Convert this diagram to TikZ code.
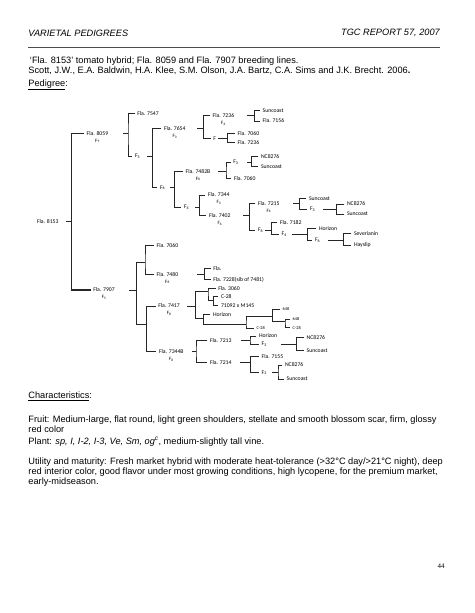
\documentclass[tikz,border=0pt]{standalone}
\usepackage{fontspec}
\setmainfont{Liberation Sans}
\newfontfamily\pedfont{Carlito}
\newfontfamily\numfont{Liberation Serif}
\usetikzlibrary{positioning}

\begin{document}
\begin{tikzpicture}[x=1.2911pt,y=-1.2911pt,
	ped/.style={font=\pedfont\fontsize{7.4}{8}\selectfont,anchor=west,inner sep=0.5pt,outer sep=3pt,xshift=-3.5pt},
	tiny/.style={ped,font=\pedfont\fontsize{5.6}{6}\selectfont},
	gen/.style={font=\pedfont\fontsize{6.4}{7}\selectfont,inner sep=0pt},
	body/.style={anchor=west,align=left,inner sep=0pt,font=\fontsize{11.9}{12.8}\selectfont},
	link/.style={line width=1pt,black!85}]
	\useasboundingbox[fill=white] (0,0) rectangle (474,613);

	% page head
	\node[body,font=\itshape\fontsize{11.9}{13}\selectfont] (head) at (28.3,33.3) {VARIETAL PEDIGREES};
	\node[body,anchor=east,font=\itshape\fontsize{11.9}{13}\selectfont] (report) at (440,33.3) {TGC REPORT 57, 2007};
	\draw[line width=1pt,black!70] (28.3,47.7) -- (440,47.7);
	\node[body] (title) at (28.3,66) {\,`Fla. 8153' tomato hybrid; Fla. 8059 and Fla. 7907 breeding lines.\\Scott, J.W., E.A. Baldwin, H.A. Klee, S.M. Olson, J.A. Bartz, C.A. Sims and J.K. Brecht. 2006\textbf{.}};
	\node[body] (pedhead) at (28.3,85) {\underline{Pedigree}:};

	% pedigree, upper half
	\node[ped] (r8153) at (37,221.7) {Fla. 8153};
	\node[ped] (n8059) at (86.7,133.3) {Fla. 8059};
	\node[gen,below=1pt of n8059] {F\textsubscript{9}};
	\node[ped] (n7547) at (137.3,113.3) {Fla. 7547};
	\node[ped] (nF5a) at (135,156.3) {F\textsubscript{5}};
	\node[ped] (n7654) at (164,128.7) {Fla. 7654};
	\node[gen,below=1pt of n7654] {F\textsubscript{3}};
	\node[ped] (n7236a) at (212.7,115.7) {Fla. 7236};
	\node[gen,below=1pt of n7236a] {F\textsubscript{6}};
	\node[ped] (nSun1) at (262.7,110.7) {Suncoast};
	\node[ped] (n7156) at (262.7,121) {Fla. 7156};
	\node[ped] (nFa) at (213.3,138.3) {F};
	\node[ped] (n7060a) at (237.7,133.3) {Fla. 7060};
	\node[ped] (n7236b) at (237.7,142.7) {Fla. 7236};
	\node[ped] (nF6a) at (160,187.7) {F\textsubscript{6}};
	\node[ped] (n7482) at (185.7,171.3) {Fla. 7482B};
	\node[gen,below=1pt of n7482] {F\textsubscript{8}};
	\node[ped] (nF3a) at (233.3,162.3) {F\textsubscript{3}};
	\node[ped] (nNC1) at (261,156.7) {NC8276};
	\node[ped] (nSun2) at (261,166.7) {Suncoast};
	\node[ped] (n7060b) at (234,178.3) {Fla. 7060};
	\node[ped] (nF4a) at (184,207) {F\textsubscript{4}};
	\node[ped] (n7344) at (208,195) {Fla. 7344};
	\node[gen,below=1pt of n7344] {F\textsubscript{3}};
	\node[ped] (n7402) at (209,215.5) {Fla. 7402};
	\node[gen,below=1pt of n7402] {F\textsubscript{6}};
	\node[ped] (n7215) at (258,203.3) {Fla. 7215};
	\node[gen,below=1pt of n7215] {F\textsubscript{6}};
	\node[ped] (nSun3) at (309,198.3) {Suncoast};
	\node[ped] (nF3b) at (310,209.5) {F\textsubscript{3}};
	\node[ped] (nNC2) at (347,204) {NC8276};
	\node[ped] (nSun4) at (347,214) {Suncoast};
	\node[ped] (nF6b) at (258,230) {F\textsubscript{6}};
	\node[ped] (n7182) at (280,222.7) {Fla. 7182};
	\node[ped] (nF4b) at (281.7,234) {F\textsubscript{4}};
	\node[ped] (nHor1) at (319,228.3) {Horizon};
	\node[ped] (nF6c) at (315,240) {F\textsubscript{6}};
	\node[ped] (nSev) at (354,233.5) {Severianin};
	\node[ped] (nHay) at (354,245) {Hayslip};

	% pedigree, lower half
	\node[ped] (n7907) at (93.3,290) {Fla. 7907};
	\node[gen,below=1pt of n7907] {F\textsubscript{5}};
	\node[ped] (n7060c) at (156.7,245.7) {Fla. 7060};
	\node[ped] (n7480) at (156.7,274.3) {Fla. 7480};
	\node[gen,below=1pt of n7480] {F\textsubscript{8}};
	\node[ped] (nFlaX) at (213.3,268.3) {Fla.};
	\node[ped] (n7228) at (213.3,279.3) {Fla. 7228(sib of 7481)};
	\node[ped] (n7417) at (158.3,306) {Fla. 7417};
	\node[gen,below=1pt of n7417] {F\textsubscript{8}};
	\node[ped] (n3060) at (218.3,288.3) {Fla. 3060};
	\node[ped] (nC28a) at (221,296.7) {C-28};
	\node[ped] (n71092) at (221,305.7) {71092 x M145};
	\node[ped] (nHor2) at (213,314.3) {Horizon};
	\node[tiny] (nC28b) at (256.7,328.3) {C-28};
	\node[tiny] (n648a) at (282.7,309) {648};
	\node[tiny] (n648b) at (292.7,319.3) {648};
	\node[tiny] (nC28c) at (292.7,327.7) {C-28};
	\node[ped] (n7344b) at (159,351.7) {Fla. 7344B};
	\node[gen,below=1pt of n7344b] {F\textsubscript{8}};
	\node[ped] (n7213) at (210,340.7) {Fla. 7213};
	\node[ped] (nHor3) at (259,336) {Horizon};
	\node[ped] (nF3c) at (261.7,344.3) {F\textsubscript{3}};
	\node[ped] (nNC3) at (306.7,337.7) {NC8276};
	\node[ped] (nSun5) at (306.7,350.7) {Suncoast};
	\node[ped] (n7214) at (210,362.3) {Fla. 7214};
	\node[ped] (n7155) at (261.7,356.7) {Fla. 7155};
	\node[ped] (nF3d) at (261.7,372.7) {F\textsubscript{3}};
	\node[ped] (nNC4) at (285,365) {NC8276};
	\node[ped] (nSun6) at (286.7,379) {Suncoast};

	% bracket bars
	\coordinate (b8153) at (71.7,221.7);
	\coordinate (b8059) at (128,133.3);
	\coordinate (bF5a) at (152.7,156.3);
	\coordinate (b7654) at (203.3,128.7);
	\coordinate (b7236a) at (254.7,115.7);
	\coordinate (bFa) at (227.3,138.3);
	\coordinate (bF6a) at (174.3,187.7);
	\coordinate (b7482) at (226,171.3);
	\coordinate (bF3a) at (251.7,162.3);
	\coordinate (bF4a) at (199.3,207);
	\coordinate (b7402) at (249.3,215.5);
	\coordinate (b7215) at (299.7,203.3);
	\coordinate (bF3b) at (336.7,209.5);
	\coordinate (bF6b) at (271.7,230);
	\coordinate (bF4b) at (307.3,234);
	\coordinate (bF6c) at (343.5,240);
	\coordinate (b7907) at (136.7,290);
	\coordinate (s1) at (145,262.7);
	\coordinate (s2) at (146.7,324.3);
	\coordinate (b7480) at (204.7,274.3);
	\coordinate (b7417) at (195.7,306);
	\coordinate (k1) at (208,291.7);
	\coordinate (k2) at (213.3,300.5);
	\coordinate (h1) at (203.3,318.3);
	\coordinate (h2) at (246,324.3);
	\coordinate (h3) at (272.7,316);
	\coordinate (h4) at (285,321.7);
	\coordinate (b7344b) at (196,351.7);
	\coordinate (b7213) at (250,340.7);
	\coordinate (bF3c) at (296.7,344.3);
	\coordinate (b7214) at (250.7,362.3);
	\coordinate (bF3d) at (278,372.7);

	\draw[link,line width=1.4pt] (b8153) -- ++(-5.7,0) (n8059.west) -| (b8153) |- (n7907.west);
	\draw[link] (b8059) -- ++(-5.3,0) (n7547.west) -| (b8059) |- (nF5a.west);
	\draw[link] (bF5a) -- ++(-5.4,0) (n7654.west) -| (bF5a) |- (nF6a.west);
	\draw[link] (b7654) -- ++(-6.3,0) (n7236a.west) -| (b7654) |- (nFa.west);
	\draw[link] (b7236a) -- ++(-7.4,0) (nSun1.west) -| (b7236a) |- (n7156.west);
	\draw[link] (bFa) -- ++(-9.3,0) (n7060a.west) -| (bFa) |- (n7236b.west);
	\draw[link] (bF6a) -- ++(-4,0) (n7482.west) -| (bF6a) |- (nF4a.west);
	\draw[link] (b7482) -- ++(-8,0) (nF3a.west) -| (b7482) |- (n7060b.west);
	\draw[link] (bF3a) -- ++(-5,0) (nNC1.west) -| (bF3a) |- (nSun2.west);
	\draw[link] (bF4a) -- ++(-4,0) (n7344.west) -| (bF4a) |- (n7402.west);
	\draw[link] (b7402) -- ++(-6.6,0) (n7215.west) -| (b7402) |- (nF6b.west);
	\draw[link] (b7215) -- ++(-6.7,0) (nSun3.west) -| (b7215) |- (nF3b.west);
	\draw[link] (bF3b) -- ++(-13.7,0) (nNC2.west) -| (bF3b) |- (nSun4.west);
	\draw[link] (bF6b) -- ++(-6.7,0) (n7182.west) -| (bF6b) |- (nF4b.west);
	\draw[link] (bF4b) -- ++(-15.6,0) (nHor1.west) -| (bF4b) |- (nF6c.west);
	\draw[link] (bF6c) -- ++(-15.5,0) (nSev.west) -| (bF6c) |- (nHay.west);

	\draw[link] (b7907) -- ++(-7.4,0) (s1) -| (b7907) |- (s2);
	\draw[link] (n7060c.west) -| (s1) |- (n7480.west);
	\draw[link] (n7417.west) -| (s2) |- (n7344b.west);
	\draw[link] (b7480) -- ++(-8,0) (nFlaX.west) -| (b7480) |- (n7228.west);
	\draw[link] (b7417) -- ++(-9,0) (k1) -| (b7417) |- (h1);
	\draw[link] (n3060.west) -| (k1) |- (k2);
	\draw[link] (nC28a.west) -| (k2) |- (n71092.west);
	\draw[link] (nHor2.west) -| (h1) |- (h2);
	\draw[link] (h3) -| (h2) |- (nC28b.west);
	\draw[link] (n648a.west) -| (h3) |- (h4);
	\draw[link] (n648b.west) -| (h4) |- (nC28c.west);
	\draw[link] (b7344b) -- ++(-4,0) (n7213.west) -| (b7344b) |- (n7214.west);
	\draw[link] (b7213) -- ++(-9.3,0) (nHor3.west) -| (b7213) |- (nF3c.west);
	\draw[link] (bF3c) -- ++(-16,0) (nNC3.west) -| (bF3c) |- (nSun5.west);
	\draw[link] (b7214) -- ++(-10.7,0) (n7155.west) -| (b7214) |- (nF3d.west);
	\draw[link] (bF3d) -- ++(-6.3,0) (nNC4.west) -| (bF3d) |- (nSun6.west);

	% characteristics
	\node[body] (charhead) at (28.3,396) {\underline{Characteristics}:};
	\node[body] (fruit) at (28.3,423.8) {Fruit: Medium-large, flat round, light green shoulders, stellate and smooth blossom scar, firm, glossy\\red color};
	\node[body] (plant) at (28.3,441.7) {Plant: \textit{sp, I, I-2, I-3, Ve, Sm, og\textsuperscript{c}}, medium-slightly tall vine.};
	\node[body] (utility) at (28.3,472) {Utility and maturity: Fresh market hybrid with moderate heat-tolerance (>32°C day/>21°C night), deep\\red interior color, good flavor under most growing conditions, high lycopene, for the premium market,\\early-midseason.};
	\node[font=\numfont\fontsize{9}{10}\selectfont,inner sep=0pt] (page) at (441,566) {44};
\end{tikzpicture}
\end{document}
